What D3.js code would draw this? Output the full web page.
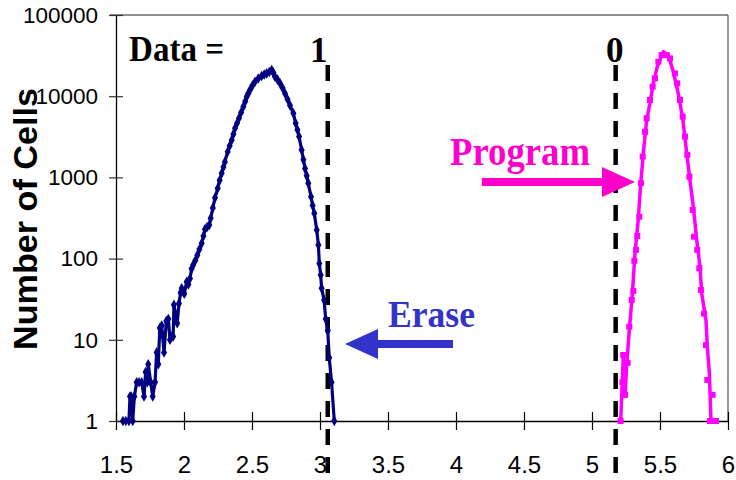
<!DOCTYPE html>
<html>
<head>
<meta charset="utf-8">
<script src="https://cdn.jsdelivr.net/npm/d3@7"></script>
<style>
body { margin: 0; background: #fff; }
svg { display: block; }
</style>
</head>
<body>
<svg id="chart" width="736" height="480"></svg>
<script>
// erase distribution (navy, diamonds)
var eraseX = [1.551,1.572,1.595,1.603,1.612,1.623,1.635,1.652,1.67,1.689,1.706,1.718,1.73,1.737,1.755,1.77,1.787,1.799,1.811,1.822,1.836,1.853,1.87,1.885,1.897,1.91,1.92,1.926,1.95,1.963,1.975,1.983,2.002,2.02,2.032,2.044,2.056,2.068,2.083,2.098,2.113,2.13,2.143,2.154,2.17,2.186,2.196,2.212,2.228,2.248,2.262,2.277,2.29,2.301,2.321,2.336,2.351,2.363,2.375,2.39,2.404,2.42,2.436,2.45,2.461,2.473,2.485,2.503,2.522,2.546,2.571,2.59,2.608,2.627,2.645,2.657,2.669,2.688,2.706,2.725,2.743,2.761,2.779,2.804,2.821,2.834,2.846,2.865,2.878,2.89,2.902,2.914,2.934,2.946,2.958,2.976,2.988,2.995,3.005,3.012,3.03,3.042,3.057,3.068,3.085,3.105];
var eraseY = [1,1,1,2,2,1,2,3,3,3,2,4,3,5,3,2,3,7,5,14,15,7,17,18,10,11,11,27,16,28,38,43,37,52,48,57,75,84,95,110,130,154,190,230,245,260,314,420,560,734,920,1122,1340,1560,2075,2450,2890,3400,4025,4650,5350,6300,7430,8600,9860,10900,11900,13500,15100,16500,17700,18500,19100,19800,21000,19500,17400,16000,14400,12600,10800,9200,7760,6150,4630,3850,3180,2175,1650,1290,1050,846,578,450,361,225,147,87,63,43,31,18,13,6,3,1];

// program distribution: line (magenta) and square points
var progLineX = [5.211,5.23,5.243,5.255,5.274,5.297,5.316,5.34,5.358,5.382,5.402,5.426,5.451,5.48,5.524,5.561,5.598,5.634,5.667,5.691,5.72,5.745,5.77,5.794,5.807,5.838,5.848,5.863,5.875];
var progLineY = [1,6.2,2,4.9,13,37,116,299,846,2390,5090,8170,14400,23100,35300,32100,20000,10800,5350,2390,929,436,170,79,37,17.6,8.2,3.9,1];
var progPtX = [5.21,5.224,5.23,5.243,5.262,5.274,5.292,5.304,5.311,5.324,5.333,5.348,5.36,5.373,5.39,5.402,5.426,5.446,5.463,5.488,5.512,5.549,5.574,5.61,5.627,5.647,5.667,5.684,5.701,5.716,5.74,5.75,5.774,5.789,5.801,5.824,5.838,5.848,5.868,5.887,5.912];
var progPtY = [1,3,6.5,2.1,5.2,14.5,31,40,94,128,190,328,850,1800,3650,5350,8980,13100,16600,26600,32100,32100,29200,19100,14400,8980,5600,3180,1890,1020,397,186,128,76,41,21,8.6,3.2,1,2.1,1];

var xTicks = [1.5,2,2.5,3,3.5,4,4.5,5,5.5,6];
var yTicks = [1,10,100,1000,10000,100000];

// read thresholds and their data values
var thresholds = [3.057, 5.174];
var thresholdLabels = ["1", "0"];

var svg = d3.select("#chart");

var x = d3.scaleLinear().domain([1.5, 6]).range([116, 728]);
var y = d3.scaleLog().domain([1, 100000]).range([421, 15]);

// frame: top and right borders
svg.append("line")
  .attr("x1", x(1.5) - 6).attr("x2", x(6))
  .attr("y1", y(100000)).attr("y2", y(100000))
  .attr("stroke", "#222").attr("stroke-width", 1.2);
svg.append("line")
  .attr("x1", x(6)).attr("x2", x(6))
  .attr("y1", y(100000)).attr("y2", y(1))
  .attr("stroke", "#555").attr("stroke-width", 1.2);

// x axis
var xAxis = svg.append("g")
  .attr("transform", "translate(0," + y(1) + ")")
  .call(d3.axisBottom(x).tickValues(xTicks).tickFormat(d3.format("")).tickSize(9).tickSizeOuter(0));
xAxis.select(".domain").attr("stroke", "#000").attr("stroke-width", 1.3);
xAxis.selectAll(".tick line").attr("y1", -9).attr("stroke", "#000").attr("stroke-width", 1.2);
xAxis.selectAll(".tick text")
  .attr("dy", null).attr("y", 52)
  .style("font-family", "Arial, 'Liberation Sans', sans-serif")
  .style("font-size", "24px").attr("fill", "#000");

// y axis
var yAxis = svg.append("g")
  .attr("transform", "translate(" + x(1.5) + ",0)")
  .call(d3.axisLeft(y).tickValues(yTicks).tickFormat(d3.format("d")).tickSize(7).tickSizeOuter(0));
yAxis.select(".domain").attr("stroke", "#000").attr("stroke-width", 1.3);
yAxis.selectAll(".tick line").attr("x1", -7).attr("x2", 7).attr("stroke", "#333").attr("stroke-width", 1.2);
yAxis.selectAll(".tick text")
  .attr("x", -18)
  .style("font-family", "Arial, 'Liberation Sans', sans-serif")
  .style("font-size", "22.5px").attr("fill", "#000");

// y label
svg.append("text")
  .attr("transform", "translate(37," + 219 + ") rotate(-90)")
  .attr("text-anchor", "middle")
  .attr("textLength", 262).attr("lengthAdjust", "spacingAndGlyphs")
  .style("font-family", "Arial, 'Liberation Sans', sans-serif")
  .style("font-weight", "bold")
  .style("font-size", "33px")
  .text("Number of Cells");

// threshold dashed lines
svg.selectAll(".thr").data(thresholds).enter().append("line")
  .attr("class", "thr")
  .attr("x1", function (d) { return x(d); })
  .attr("x2", function (d) { return x(d); })
  .attr("y1", 65).attr("y2", 480)
  .attr("stroke", "#000").attr("stroke-width", 4.5)
  .attr("stroke-dasharray", "16,12");

svg.selectAll(".thrLabel").data(thresholds).enter().append("text")
  .attr("class", "thrLabel")
  .attr("x", function (d, i) { return x(d) - (i == 0 ? 9 : 1); })
  .attr("y", 62)
  .attr("text-anchor", "middle")
  .style("font-family", "'Times New Roman', 'Liberation Serif', serif")
  .style("font-weight", "bold").style("font-size", "35px")
  .text(function (d, i) { return thresholdLabels[i]; });

svg.append("text")
  .attr("x", x(1.596)).attr("y", 61)
  .attr("textLength", 95).attr("lengthAdjust", "spacingAndGlyphs")
  .style("font-family", "'Times New Roman', 'Liberation Serif', serif")
  .style("font-weight", "bold").style("font-size", "36px")
  .text("Data =");

// erase curve
var erase = eraseX.map(function (d, i) { return [d, eraseY[i]]; });
var line = d3.line().x(function (d) { return x(d[0]); }).y(function (d) { return y(d[1]); });
svg.append("path").datum(erase)
  .attr("d", line)
  .attr("fill", "none").attr("stroke", "#000080").attr("stroke-width", 3.2)
  .attr("stroke-linejoin", "round");
svg.selectAll(".ed").data(erase).enter().append("path")
  .attr("class", "ed")
  .attr("transform", function (d) { return "translate(" + x(d[0]) + "," + y(d[1]) + ")"; })
  .attr("d", d3.symbol(d3.symbolDiamond, 32))
  .attr("fill", "#000080");

// program curve
var prog = progLineX.map(function (d, i) { return [d, progLineY[i]]; });
svg.append("path").datum(prog)
  .attr("d", line)
  .attr("fill", "none").attr("stroke", "#ff00ff").attr("stroke-width", 3.5)
  .attr("stroke-linejoin", "round");
var progPts = progPtX.map(function (d, i) { return [d, progPtY[i]]; });
svg.selectAll(".ps").data(progPts).enter().append("rect")
  .attr("class", "ps")
  .attr("x", function (d) { return x(d[0]) - 3; })
  .attr("y", function (d) { return y(d[1]) - 3; })
  .attr("width", 6).attr("height", 6)
  .attr("fill", "#ff00ff");

// annotation arrows
function arrow(x0, x1, yv, color) {
  var px0 = x(x0), px1 = x(x1), py = y(yv);
  var dir = px1 > px0 ? 1 : -1;
  var headLen = 33, half = 15, shaft = 4;
  var hb = px1 - dir * headLen;
  var pts = [[px0, py - shaft], [hb, py - shaft], [hb, py - half], [px1, py],
    [hb, py + half], [hb, py + shaft], [px0, py + shaft]];
  svg.append("path")
    .attr("d", "M" + pts.join("L") + "Z")
    .attr("fill", color);
}
arrow(3.978, 3.184, 8.9, "#3333cc");
arrow(4.19, 5.316, 878, "#ff00cc");

svg.append("text")
  .attr("x", x(3.5)).attr("y", y(14.4))
  .attr("textLength", 87).attr("lengthAdjust", "spacingAndGlyphs")
  .style("font-family", "'Times New Roman', 'Liberation Serif', serif")
  .style("font-weight", "bold").style("font-size", "38px")
  .attr("fill", "#3333cc")
  .text("Erase");

svg.append("text")
  .attr("x", x(3.956)).attr("y", y(1422))
  .attr("textLength", 140).attr("lengthAdjust", "spacingAndGlyphs")
  .style("font-family", "'Times New Roman', 'Liberation Serif', serif")
  .style("font-weight", "bold").style("font-size", "40px")
  .attr("fill", "#ff00cc")
  .text("Program");
</script>
</body>
</html>
